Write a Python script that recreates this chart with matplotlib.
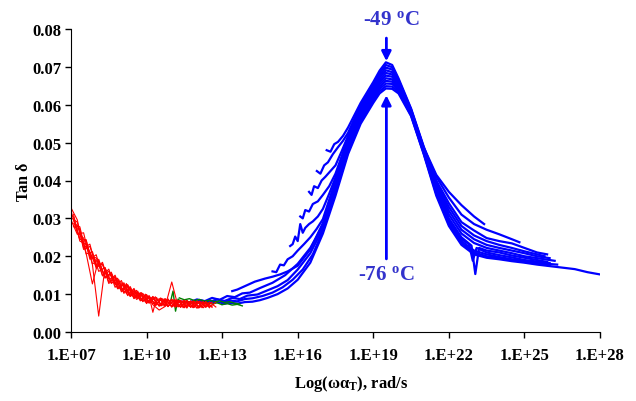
import numpy as np
import matplotlib.pyplot as plt
from matplotlib.ticker import NullLocator

plt.rcParams['font.family'] = 'Liberation Serif'
plt.rcParams['font.weight'] = 'bold'
plt.rcParams['axes.labelweight'] = 'bold'
plt.rcParams['mathtext.fontset'] = 'custom'
plt.rcParams['mathtext.rm'] = 'Liberation Serif:bold'
plt.rcParams['mathtext.it'] = 'Liberation Serif:italic:bold'
plt.rcParams['mathtext.bf'] = 'Liberation Serif:bold'

# ---- data: log10(omega*aT) and tan delta ----
xtick_exp = [7, 10, 13, 16, 19, 22, 25, 28]
xtick_labels = ['1.E+07', '1.E+10', '1.E+13', '1.E+16', '1.E+19', '1.E+22', '1.E+25', '1.E+28']
ytick_vals = [0.00, 0.01, 0.02, 0.03, 0.04, 0.05, 0.06, 0.07, 0.08]

# blue master curves (one per temperature, -49 C ... -76 C)
blue_logw = [
    [17.15, 17.3, 17.45, 17.6, 17.8, 18.0, 18.5, 19.0, 19.25, 19.5, 19.75, 20.0, 20.5, 21.0, 21.5, 22.0, 22.5, 23.0, 23.5, 24.0, 24.5, 25.0, 25.5, 25.9],
    [16.76, 16.9, 17.05, 17.2, 17.4, 17.6, 17.8, 18.0, 18.5, 19.0, 19.25, 19.5, 19.75, 20.0, 20.5, 21.0, 21.5, 22.0, 22.5, 23.0, 23.4],
    [16.45, 16.55, 16.65, 16.8, 16.95, 17.1, 17.3, 17.5, 17.75, 18.0, 18.5, 19.0, 19.25, 19.5, 19.75, 20.0, 20.5, 21.0, 21.5, 22.0, 22.5, 23.0, 23.5, 24.0, 24.5, 24.8],
    [16.1, 16.2, 16.3, 16.45, 16.6, 16.8, 17.0, 17.25, 17.5, 18.0, 18.5, 19.0, 19.25, 19.5, 19.75, 20.0, 20.5, 21.0, 21.5, 22.0, 22.5, 23.0, 23.5, 24.0, 24.5, 25.0, 25.5, 25.8],
    [15.7, 15.8, 15.9, 16.0, 16.1, 16.2, 16.3, 16.45, 16.6, 16.8, 17.0, 17.25, 17.5, 18.0, 18.5, 19.0, 19.25, 19.5, 19.75, 20.0, 20.5, 21.0, 21.5, 22.0, 22.5, 23.0, 23.5, 24.0, 24.5, 25.0, 25.5, 26.0],
    [15.0, 15.15, 15.3, 15.45, 15.6, 15.8, 16.0, 16.25, 16.5, 16.75, 17.0, 17.5, 18.0, 18.5, 19.0, 19.25, 19.5, 19.75, 20.0, 20.5, 21.0, 21.5, 22.0, 22.5, 22.9, 23.05, 23.2, 23.5, 24.0, 24.5, 25.0, 25.5, 25.9],
    [13.4, 13.6, 13.8, 14.0, 14.3, 14.5, 14.7, 15.0, 15.3, 15.6, 16.0, 16.5, 17.0, 17.5, 18.0, 18.5, 19.0, 19.25, 19.5, 19.75, 20.0, 20.5, 21.0, 21.5, 22.0, 22.5, 23.0, 23.5, 24.0, 24.5, 25.0, 25.5, 26.2],
    [11.4, 11.7, 12.0, 12.3, 12.6, 12.9, 13.2, 13.5, 13.8, 14.1, 14.5, 15.0, 15.5, 16.0, 16.5, 17.0, 17.5, 18.0, 18.5, 19.0, 19.25, 19.5, 19.75, 20.0, 20.5, 21.0, 21.5, 22.0, 22.5, 22.8, 22.95, 23.1, 23.5, 24.0, 24.5, 25.0, 25.5, 26.0],
    [11.9, 12.2, 12.5, 12.8, 13.1, 13.4, 13.7, 14.0, 14.4, 14.8, 15.2, 15.6, 16.0, 16.5, 17.0, 17.5, 18.0, 18.5, 19.0, 19.25, 19.5, 19.75, 20.0, 20.5, 21.0, 21.5, 22.0, 22.5, 23.0, 23.5, 24.0, 24.5, 25.0, 25.5, 26.3],
    [12.4, 12.7, 13.0, 13.3, 13.6, 13.9, 14.2, 14.6, 15.0, 15.4, 15.8, 16.2, 16.6, 17.0, 17.5, 18.0, 18.5, 19.0, 19.25, 19.5, 19.75, 20.0, 20.5, 21.0, 21.5, 22.0, 22.5, 23.0, 23.5, 24.0, 24.5, 25.0, 25.5, 26.0],
    [13.0, 13.3, 13.6, 13.9, 14.2, 14.5, 14.8, 15.2, 15.6, 16.0, 16.5, 17.0, 17.5, 18.0, 18.5, 19.0, 19.25, 19.5, 19.75, 20.0, 20.5, 21.0, 21.5, 22.0, 22.5, 23.0, 23.5, 24.0, 24.5, 25.0, 25.5, 26.5, 27.0, 27.5, 28.0],
]
blue_tan = [
    [.0480, .0476, .0496, .0502, .0518, .0540, .0605, .0660, .0690, .0712, .0705, .0670, .0590, .0490, .0400, .0340, .0290, .0268, .0248, .0240, .0234, .0222, .0210, .0205],
    [.0425, .0418, .0440, .0448, .0470, .0488, .0505, .0526, .0600, .0655, .0684, .0705, .0699, .0666, .0588, .0488, .0415, .0370, .0335, .0305, .0285],
    [.0370, .0362, .0385, .0380, .0400, .0410, .0425, .0440, .0478, .0518, .0594, .0649, .0678, .0698, .0693, .0662, .0586, .0486, .0410, .0355, .0310, .0285, .0270, .0258, .0245, .0237],
    [.0305, .0300, .0322, .0318, .0338, .0345, .0362, .0385, .0418, .0512, .0589, .0644, .0672, .0691, .0686, .0658, .0584, .0484, .0395, .0330, .0280, .0255, .0240, .0230, .0222, .0213, .0205, .0200],
    [.0227, .0232, .0252, .0240, .0285, .0262, .0275, .0285, .0292, .0305, .0325, .0365, .0408, .0506, .0583, .0638, .0666, .0684, .0680, .0654, .0582, .0482, .0390, .0320, .0270, .0245, .0230, .0222, .0215, .0208, .0200, .0195],
    [.0160, .0158, .0178, .0176, .0192, .0200, .0215, .0232, .0250, .0272, .0298, .0400, .0500, .0578, .0633, .0660, .0677, .0674, .0650, .0580, .0480, .0380, .0300, .0250, .0228, .0153, .0222, .0215, .0210, .0202, .0196, .0190, .0185],
    [.0108, .0112, .0118, .0124, .0133, .0137, .0141, .0146, .0152, .0160, .0175, .0218, .0288, .0392, .0494, .0572, .0627, .0654, .0670, .0667, .0646, .0578, .0478, .0385, .0310, .0260, .0235, .0222, .0215, .0208, .0200, .0195, .0188],
    [.0080, .0078, .0086, .0081, .0090, .0085, .0095, .0092, .0102, .0104, .0116, .0130, .0150, .0180, .0222, .0281, .0384, .0488, .0567, .0622, .0648, .0663, .0661, .0642, .0576, .0476, .0375, .0295, .0245, .0232, .0188, .0222, .0210, .0203, .0197, .0190, .0186, .0182],
    [.0077, .0083, .0079, .0086, .0082, .0090, .0087, .0096, .0099, .0110, .0121, .0137, .0165, .0208, .0274, .0376, .0482, .0561, .0616, .0642, .0656, .0655, .0638, .0574, .0474, .0370, .0290, .0240, .0215, .0205, .0198, .0192, .0187, .0182, .0178],
    [.0076, .0080, .0077, .0083, .0081, .0087, .0089, .0095, .0104, .0118, .0138, .0165, .0205, .0267, .0368, .0476, .0556, .0611, .0636, .0649, .0648, .0634, .0572, .0472, .0365, .0285, .0235, .0210, .0200, .0195, .0190, .0185, .0180, .0176],
    [.0074, .0077, .0075, .0079, .0080, .0084, .0090, .0100, .0115, .0138, .0183, .0260, .0360, .0470, .0550, .0605, .0630, .0643, .0642, .0630, .0570, .0470, .0360, .0280, .0230, .0205, .0196, .0192, .0187, .0183, .0178, .0170, .0166, .0158, .0152],
]

# red curves (low frequency data), three sampling grids
red_grid_a = [7.0, 7.25, 7.5, 7.75, 8.0, 8.25, 8.5, 8.75, 9.0, 9.25, 9.5, 9.75, 10.0, 10.25, 10.5, 10.75, 11.0, 11.25, 11.5, 11.75, 12.0, 12.25, 12.5, 12.75]
red_grid_b = [7.1, 7.35, 7.6, 7.85, 8.1, 8.35, 8.6, 8.85, 9.1, 9.35, 9.6, 9.85, 10.1, 10.35, 10.6, 10.85, 11.1, 11.35, 11.6, 11.85, 12.1, 12.35, 12.6]
red_grid_c = [8.6, 8.75, 8.9, 9.05, 9.2, 9.35, 9.5, 9.65, 9.8, 9.95, 10.1, 10.25, 10.4, 10.55, 10.7, 10.85, 11.0, 11.15, 11.3, 11.45, 11.6, 11.75, 11.9, 12.05, 12.2, 12.35, 12.5]
red_a = [
    [.0328, .0296, .0222, .0232, .0168, .0184, .0132, .0150, .0106, .0124, .0088, .0104, .0075, .0094, .0068, .0088, .0066, .0084, .0064, .0082, .0063, .0080, .0064],
    [.0296, .0258, .0262, .0192, .0204, .0148, .0166, .0118, .0136, .0096, .0115, .0082, .0099, .0072, .0058, .0068, .0087, .0066, .0084, .0065, .0082, .0064, .0079, .0066],
    [.0320, .0262, .0248, .0198, .0196, .0150, .0160, .0126, .0130, .0098, .0108, .0086, .0096, .0074, .0088, .0070, .0132, .0068, .0082, .0066, .0080, .0065],
    [.0302, .0290, .0218, .0226, .0176, .0178, .0140, .0146, .0110, .0125, .0091, .0102, .0079, .0090, .0070, .0085, .0068, .0082, .0066, .0080],
    [.0288, .0282, .0232, .0210, .0172, .0180, .0128, .0145, .0112, .0120, .0090, .0100, .0078, .0092, .0069, .0086, .0067, .0083, .0065, .0081, .0064, .0079, .0066, .0078],
]
red_b = [
    [.0296, .0244, .0244, .0178, .0042, .0170, .0128, .0142, .0102, .0120, .0086, .0102, .0076, .0093, .0069, .0087, .0067, .0084, .0065, .0082, .0064, .0080, .0065],
    [.0280, .0278, .0208, .0127, .0192, .0142, .0158, .0114, .0130, .0094, .0110, .0080, .0096, .0071, .0089, .0068, .0085, .0066, .0083, .0065, .0081, .0067],
    [.0304, .0246, .0242, .0180, .0188, .0146, .0154, .0118, .0126, .0097, .0106, .0083, .0093, .0073, .0087, .0069, .0084, .0067, .0082, .0066, .0080],
    [.0278, .0272, .0206, .0212, .0160, .0170, .0130, .0138, .0106, .0114, .0091, .0097, .0079, .0090, .0072, .0085, .0069, .0082, .0068, .0081, .0066, .0079, .0067],
    [.0310, .0240, .0232, .0196, .0184, .0144, .0150, .0116, .0124, .0094, .0104, .0082, .0092, .0070, .0088, .0067, .0085, .0065, .0083, .0064, .0081, .0066, .0078],
]
red_c = [
    [.0155, .0125, .0138, .0108, .0128, .0097, .0113, .0087, .0104, .0079, .0095, .0052, .0091, .0069, .0088, .0067, .0085, .0065, .0083, .0064, .0082, .0066, .0081, .0063, .0080, .0065, .0078],
    [.0135, .0145, .0114, .0128, .0101, .0117, .0090, .0108, .0083, .0100, .0077, .0093, .0071, .0090, .0068, .0087, .0066, .0085, .0067, .0083, .0063, .0082, .0065, .0080, .0064, .0079, .0066],
]

# green curves
green_logw = [
    [10.95, 11.05, 11.15, 11.25, 11.4, 11.6, 11.8, 12.0, 12.2, 12.4, 12.6, 12.8, 13.0, 13.2, 13.4, 13.6, 13.8],
    [11.3, 11.5, 11.7, 11.9, 12.1, 12.3, 12.5, 12.7, 12.9, 13.1, 13.3, 13.5, 13.7],
]
green_tan = [
    [.0080, .0108, .0055, .0087, .0078, .0082, .0076, .0080, .0075, .0079, .0074, .0077, .0072, .0075, .0071, .0073, .0069],
    [.0090, .0085, .0088, .0083, .0086, .0081, .0084, .0080, .0082, .0078, .0080, .0076, .0074],
]

peak_logw = 19.52

fig = plt.figure(figsize=(6.36, 4.02), dpi=100)
ax = fig.add_axes([71 / 636, 1 - 333 / 402, 529 / 636, 303 / 402])

for xs, ys in zip(blue_logw, blue_tan):
    ax.plot(10.0 ** np.array(xs), ys, color='#0000ff', lw=1.6)
for xs, ys in zip(green_logw, green_tan):
    ax.plot(10.0 ** np.array(xs), ys, color='#008000', lw=1.0)
for grid, curves in [(red_grid_a, red_a), (red_grid_b, red_b), (red_grid_c, red_c)]:
    for ys in curves:
        ax.plot(10.0 ** np.array(grid[:len(ys)]), ys, color='#ff0000', lw=0.8)

ax.set_xscale('log')
ax.set_xlim(1e7, 1e28)
ax.set_ylim(0, 0.08)
ax.set_xticks([10.0 ** e for e in xtick_exp])
ax.set_xticklabels(xtick_labels)
ax.xaxis.set_minor_locator(NullLocator())
ax.set_yticks(ytick_vals)
ax.set_yticklabels(['%.2f' % v for v in ytick_vals])
ax.tick_params(direction='out', length=4, width=1, labelsize=12, pad=3)
ax.tick_params(axis='x', pad=7)
for s in ['top', 'right']:
    ax.spines[s].set_visible(False)

ax.set_xlabel(r'Log(ωα$_\mathregular{T}$), rad/s', fontsize=12, labelpad=7, x=0.53)
ax.set_ylabel('Tan δ', fontsize=11.5, labelpad=0)

arrow = dict(arrowstyle='-|>', color='#0000ff', lw=2, mutation_scale=14, shrinkA=0, shrinkB=0)
ax.annotate('', xy=(10 ** peak_logw, 0.0715), xytext=(10 ** peak_logw, 0.0776), arrowprops=arrow)
ax.annotate('', xy=(10 ** peak_logw, 0.0625), xytext=(10 ** peak_logw, 0.0193), arrowprops=arrow)
ax.text(10 ** 19.7, 0.0826, r'-49 $\mathregular{^o}$C', ha='center', va='center',
        fontsize=15, color='#3333cc', clip_on=False)
ax.text(10 ** 19.5, 0.0154, r'-76 $\mathregular{^o}$C', ha='center', va='center',
        fontsize=15, color='#3333cc')

fig.savefig('out.png', dpi=100)
